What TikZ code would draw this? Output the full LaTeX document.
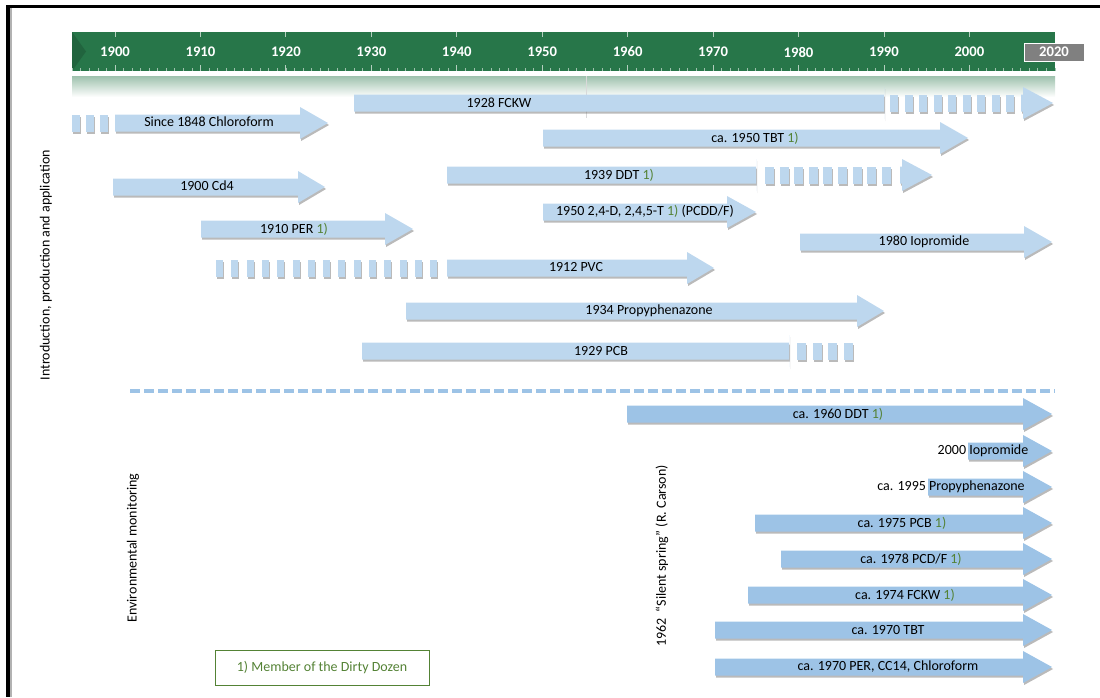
\documentclass[tikz,border=0pt]{standalone}
\usepackage{fontspec}
\setmainfont{Carlito}
\usetikzlibrary{shadows}
\definecolor{barA}{RGB}{189,215,238}
\definecolor{barB}{RGB}{157,195,230}
\definecolor{tlgreen}{RGB}{39,118,73}
\definecolor{ddgreen}{RGB}{84,130,53}
\definecolor{boxgray}{RGB}{128,128,128}

% style, x start, x body end, y centre, x tip
\newcommand\harr[5]{\fill[#1] (#2,#4-8.5) -- (#3,#4-8.5) -- (#3,#4-16) -- (#5,#4) -- (#3,#4+16) -- (#3,#4+8.5) -- (#2,#4+8.5) -- cycle;}
% style, x head start, x tip, y centre
\newcommand\hhead[4]{\fill[#1] (#2-2,#4-8.5) -- (#2,#4-8.5) -- (#2,#4-16) -- (#3,#4) -- (#2,#4+16) -- (#2,#4+8.5) -- (#2-2,#4+8.5) -- cycle;}
% style, x start, period, width, count, y centre
\newcommand\hdash[6]{\foreach \k in {1,...,#5} {\fill[#1] ({#2+(\k-1)*#3},#6-8.5) rectangle ++(#4,17);}}
\newcommand\dd{\textcolor{ddgreen}{1)}}

\begin{document}
\begin{tikzpicture}[x=0.75pt,y=-0.75pt,
  arrA/.style={fill=barA, drop shadow={shadow xshift=0.8pt, shadow yshift=-1.5pt, opacity=0.45, fill=black!60}},
  arrB/.style={fill=barB, drop shadow={shadow xshift=0.8pt, shadow yshift=-1.5pt, opacity=0.45, fill=black!60}},
  lab/.style={inner sep=0pt, font=\fontsize{10.5}{12.6}\selectfont, text=black},
  yearlab/.style={inner sep=0pt, font=\fontsize{11}{13}\selectfont\bfseries, text=white},
  vlab/.style={inner sep=0pt, rotate=90, font=\fontsize{10.5}{12.6}\selectfont, text=black}]
\useasboundingbox (0,0) rectangle (1100,697);

% frame
\fill[black] (6,5) rectangle (1100,8);
\fill[black] (6,5) rectangle (10,697);
\fill[black!30] (10,8) rectangle (12,697);

% timeline bar
\fill[tlgreen] (72,32) rectangle (1055,71);
\fill[tlgreen!85!black] (72,32) -- (86,51.5) -- (72,71) -- cycle;
\foreach \yr in {1895,...,2010} {\draw[white!55!tlgreen, line width=0.5pt] ({115+8.544*(\yr-1900)},68) -- ++(0,3);}
\foreach \yr in {1900,1910,...,2000} {
  \draw[white!65!tlgreen, line width=0.6pt] ({115+8.544*(\yr-1900)},32) -- ++(0,5);
  \draw[white!65!tlgreen, line width=0.6pt] ({115+8.544*(\yr-1900)},65) -- ++(0,6);
  \node[yearlab] (y\yr) at ({115+8.544*(\yr-1900)},52) {\yr};}
\node[yearlab, fill=boxgray, draw=white, line width=0.6pt, minimum width=45pt, minimum height=13.5pt] (y2020) at (1054,52) {2020};
\shade[top color=tlgreen!45, bottom color=white] (72,76) rectangle (1055,97);
\draw[black!15, line width=0.5pt] (586,76) -- (586,118);

% introduction / production arrows
\harr{arrA}{354}{884}{103}{884}
\hdash{arrA}{890}{14.5}{8}{9}{103}
\hhead{arrA}{1023}{1053}{103}
\hdash{arrA}{72}{14}{8}{3}{123}
\harr{arrA}{115}{300}{123}{328}
\harr{arrA}{543}{940}{138}{968}
\harr{arrA}{113}{298}{187}{325}
\harr{arrA}{447}{756}{175}{756}
\hdash{arrA}{765}{14.6}{9}{9}{175}
\hhead{arrA}{902}{932}{175}
\harr{arrA}{543}{727}{212}{756}
\harr{arrA}{201}{385}{229}{413}
\harr{arrA}{800}{1024}{242}{1052}
\hdash{arrA}{216}{15.3}{7}{15}{268}
\harr{arrA}{447}{687}{268}{714}
\harr{arrA}{406}{857}{311}{884}
\harr{arrA}{362}{789}{351}{789}
\hdash{arrA}{797}{15.6}{9}{4}{351}

\node[lab] (fckw) at (499,103) {1928 FCKW};
\node[lab] (chlo) at (209,122) {Since 1848 Chloroform};
\node[lab] (tbt) at (755,138) {ca. 1950 TBT \dd};
\node[lab] (cd4) at (207,186) {1900 Cd4};
\node[lab] (ddt) at (619,175) {1939 DDT \dd};
\node[lab] (d24) at (645,211) {1950 2,4-D, 2,4,5-T \dd{} (PCDD/F)};
\node[lab] (per) at (294,229) {1910 PER \dd};
\node[lab] (iop) at (924,242) {1980 Iopromide};
\node[lab] (pvc) at (576,267) {1912 PVC};
\node[lab] (prop) at (649,311) {1934 Propyphenazone};
\node[lab] (pcb) at (601,351) {1929 PCB};

% separator
\draw[barB, line width=3pt, dash pattern=on 7.5pt off 3pt] (130,391) -- (1055,391);

% environmental monitoring arrows
\harr{arrB}{627}{1023}{414}{1052}
\harr{arrB}{968}{1023}{451}{1052}
\harr{arrB}{928}{1023}{487}{1052}
\harr{arrB}{755}{1023}{523}{1052}
\harr{arrB}{781}{1023}{559}{1052}
\harr{arrB}{748}{1023}{595}{1052}
\harr{arrB}{715}{1023}{630}{1052}
\harr{arrB}{715}{1023}{667}{1052}

\node[lab] (mddt) at (838,414) {ca. 1960 DDT \dd};
\node[lab] (miop) at (983,451) {2000 Iopromide};
\node[lab] (mprop) at (951,487) {ca. 1995 Propyphenazone};
\node[lab] (mpcb) at (902,523) {ca. 1975 PCB \dd};
\node[lab] (mpcd) at (911,559) {ca. 1978 PCD/F \dd};
\node[lab] (mfckw) at (905,595) {ca. 1974 FCKW \dd};
\node[lab] (mtbt) at (888,630) {ca. 1970 TBT};
\node[lab] (mper) at (888,667) {ca. 1970 PER, CC14, Chloroform};

% vertical labels
\node[vlab] (intro) at (46,265) {Introduction, production and application};
\node[vlab] (envmon) at (133,548) {Environmental monitoring};
\node[vlab] (silent) at (662,556) {1962 \ “Silent spring” (R. Carson)};

% legend
\node[draw=ddgreen, line width=0.75pt, text=ddgreen, inner sep=0pt, minimum width=160.5pt, minimum height=26.25pt, font=\fontsize{10.5}{12.6}\selectfont] (legend) at (322,667.5) {1) Member of the Dirty Dozen};
\end{tikzpicture}
\end{document}
